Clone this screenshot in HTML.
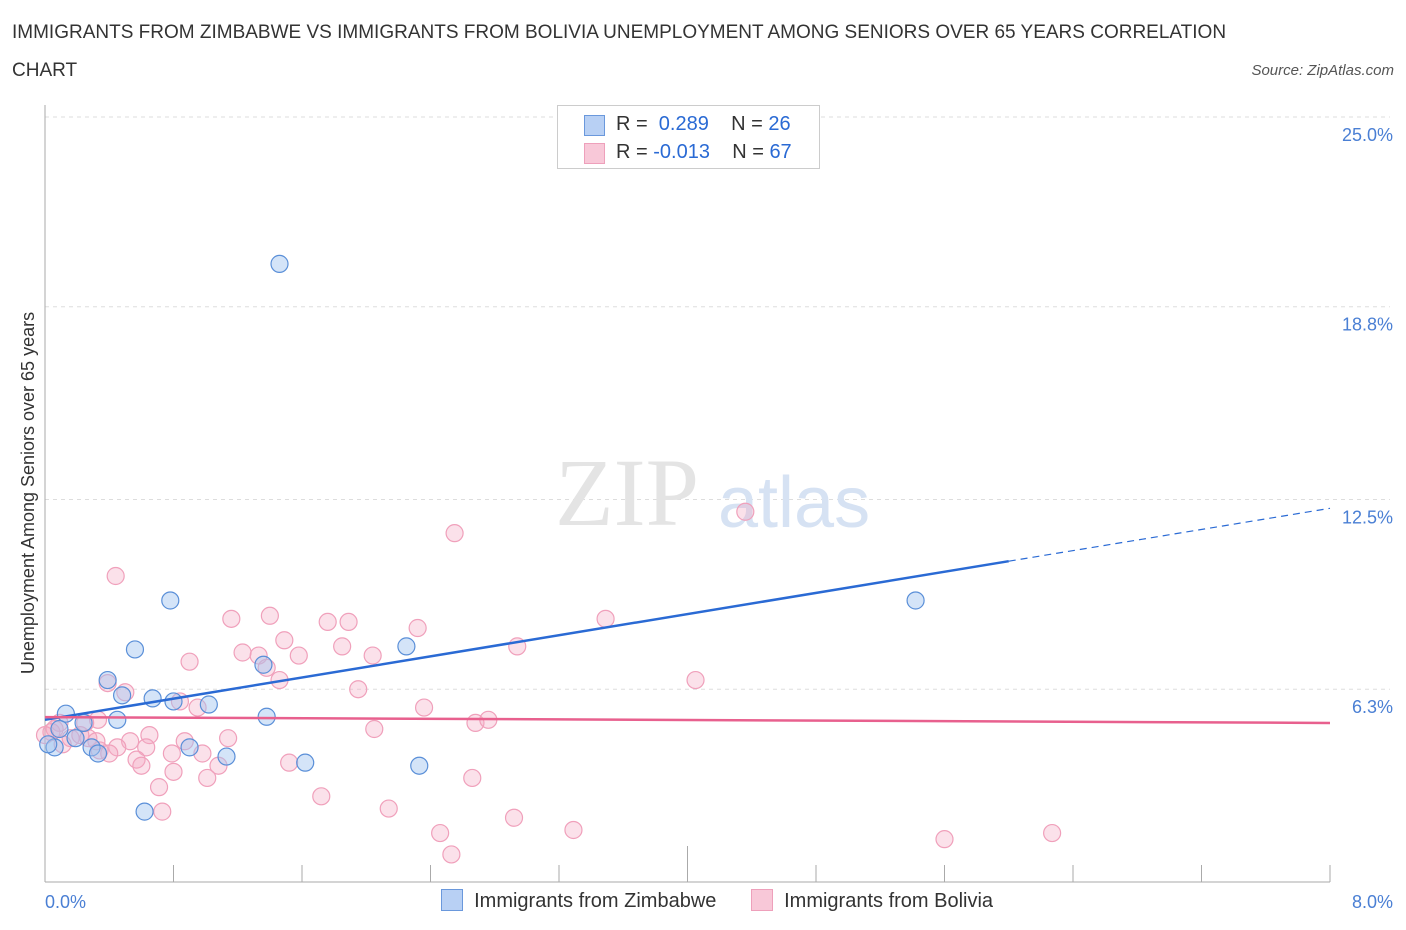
<!DOCTYPE html>
<html><head><meta charset="utf-8"><style>
body{margin:0;background:#fff;font-family:"Liberation Sans",sans-serif;}
#w{position:relative;width:1406px;height:930px;overflow:hidden;}
.t{position:absolute;white-space:nowrap;}
</style></head><body><div id="w">
<div class="t" style="left:12px;top:14px;font-size:19px;color:#333;line-height:38px;width:1215px;white-space:normal">IMMIGRANTS FROM ZIMBABWE VS IMMIGRANTS FROM BOLIVIA UNEMPLOYMENT AMONG SENIORS OVER 65 YEARS CORRELATION CHART</div>
<div class="t" style="right:12px;top:62px;font-size:15px;color:#555;font-style:italic">Source: ZipAtlas.com</div>
<svg id="s" width="1406" height="930" style="position:absolute;left:0;top:0"></svg>
</div>
<script>
const yTicks=[6.3,12.5,18.8,25.0];
const xTicks=["0.0%","8.0%"];
const zimX=[1.46,0.78,0.56,0.39,0.48,0.67,0.80,1.02,1.36,2.25,5.42,0.13,0.24,0.45,1.38,0.06,0.02,0.29,0.33,0.90,1.13,1.62,2.33,0.62,0.19,0.09];
const zimY=[20.2,9.2,7.6,6.6,6.1,6.0,5.9,5.8,7.1,7.7,9.2,5.5,5.2,5.3,5.4,4.4,4.5,4.4,4.2,4.4,4.1,3.9,3.8,2.3,4.7,5.0];
const bolX=[0.44,2.55,4.36,1.16,1.40,1.76,1.89,2.32,3.49,1.49,1.23,1.33,1.58,1.85,2.04,2.94,0.90,1.38,1.46,0.39,0.50,0.84,0.95,1.95,4.05,2.36,2.68,2.76,2.05,0.33,0.25,0.09,0.04,0.16,0.27,0.53,0.65,0.45,0.63,0.87,1.14,0.98,1.08,0.79,0.57,0.60,0.80,1.01,1.52,2.66,0.71,0.73,1.72,2.14,2.92,3.29,2.46,2.53,5.60,6.27,0.06,0.22,0.34,0.0,0.11,0.32,0.40];
const bolY=[10.0,11.4,12.1,8.6,8.7,8.5,8.5,8.3,8.6,7.9,7.5,7.4,7.4,7.7,7.4,7.7,7.2,7.0,6.6,6.5,6.2,5.9,5.7,6.3,6.6,5.7,5.2,5.3,5.0,5.3,5.2,5.2,4.9,4.7,4.7,4.6,4.8,4.4,4.4,4.6,4.7,4.2,3.8,4.2,4.0,3.8,3.6,3.4,3.9,3.4,3.1,2.3,2.8,2.4,2.1,1.7,1.6,0.9,1.4,1.6,5.0,4.8,4.3,4.8,4.5,4.6,4.2];
const zimTrend=[5.3,0.864];
const bolTrend=[5.39,-0.024];
const X0=45,X1=1330,YB=882;
const sx=v=>X0+(v/8)*(X1-X0);
const sy=v=>YB-v*30.6;
const s=document.getElementById('s');const NS='http://www.w3.org/2000/svg';
function mk(tag,a){const e=document.createElementNS(NS,tag);for(const k in a)e.setAttribute(k,a[k]);s.appendChild(e);return e;}
let e;
for(const v of yTicks){e=mk('line',{x1:X0,x2:X1+60,y1:sy(v),y2:sy(v),stroke:'#ddd','stroke-dasharray':'4,4'});


e=mk('text',{x:1393,y:sy(v)+24,'text-anchor':'end','font-size':18,fill:'#4a7fd4','font-family':'Liberation Sans'});e.textContent=v.toFixed(1)+'%';

}
e=mk('line',{x1:X0,x2:X0,y1:105,y2:YB,stroke:'#aaa'});


e=mk('line',{x1:X0,x2:X1,y1:YB,y2:YB,stroke:'#aaa'});


for(let i=0;i<=10;i++){const x=X0+i*(X1-X0)/10;e=mk('line',{x1:x,x2:x,y1:i==5?846:865,y2:YB,stroke:'#aaa'});

}
e=mk('text',{x:45,y:908,'font-size':18,fill:'#4a7fd4','font-family':'Liberation Sans'});e.textContent=xTicks[0];


e=mk('text',{x:1393,y:908,'text-anchor':'end','font-size':18,fill:'#4a7fd4','font-family':'Liberation Sans'});e.textContent=xTicks[1];


e=mk('text',{x:34,y:493,transform:'rotate(-90 34 493)','text-anchor':'middle','font-size':18,fill:'#333','font-family':'Liberation Sans'});e.textContent='Unemployment Among Seniors over 65 years';


e=mk('text',{x:555,y:525,'font-size':96,fill:'#e4e4e4','font-family':'Liberation Serif'});e.textContent='ZIP';


e=mk('text',{x:718,y:527,'font-size':72,fill:'#d6e2f3','font-family':'Liberation Sans'});e.textContent='atlas';


for(let i=0;i<bolX.length;i++){e=mk('circle',{cx:sx(bolX[i]),cy:sy(bolY[i]),r:8.5,fill:'rgba(244,170,195,0.35)',stroke:'#f0a0bb','stroke-width':1.2});

}
for(let i=0;i<zimX.length;i++){e=mk('circle',{cx:sx(zimX[i]),cy:sy(zimY[i]),r:8.5,fill:'rgba(160,195,240,0.45)',stroke:'#5a8fd8','stroke-width':1.2});

}
const tz=x=>zimTrend[0]+zimTrend[1]*x, tb=x=>bolTrend[0]+bolTrend[1]*x;
e=mk('line',{x1:sx(0),y1:sy(tz(0)),x2:sx(6),y2:sy(tz(6)),stroke:'#2a6ad4','stroke-width':2.5});


e=mk('line',{x1:sx(6),y1:sy(tz(6)),x2:sx(8),y2:sy(tz(8)),stroke:'#2a6ad4','stroke-width':1.2,'stroke-dasharray':'7,5'});


e=mk('line',{x1:sx(0),y1:sy(tb(0)),x2:sx(8),y2:sy(tb(8)),stroke:'#e8608e','stroke-width':2.5});


</script>
<div style="position:absolute;left:557px;top:105px;width:261px;height:62px;border:1px solid #ccc;background:#fff;font-size:20px;color:#333">
<div style="position:absolute;left:26px;top:9px;width:19px;height:19px;background:#b8d0f4;border:1px solid #6a98dc"></div>
<div class="t" style="left:58px;top:7px">R = <span style="color:#2a6ad4">&nbsp;0.289</span>&nbsp;&nbsp;&nbsp;&nbsp;N = <span style="color:#2a6ad4">26</span></div>
<div style="position:absolute;left:26px;top:37px;width:19px;height:19px;background:#f8c8d8;border:1px solid #eea0bb"></div>
<div class="t" style="left:58px;top:35px">R = <span style="color:#2a6ad4">-0.013</span>&nbsp;&nbsp;&nbsp;&nbsp;N = <span style="color:#2a6ad4">67</span></div>
</div>
<div style="position:absolute;left:441px;top:889px;font-size:20px;color:#333">
<div style="position:absolute;left:0;top:0;white-space:nowrap"><span style="display:inline-block;width:20px;height:20px;background:#b8d0f4;border:1px solid #6a98dc;vertical-align:-4px"></span>&nbsp;&nbsp;Immigrants from Zimbabwe</div>
<div style="position:absolute;left:310px;top:0;white-space:nowrap"><span style="display:inline-block;width:20px;height:20px;background:#f8c8d8;border:1px solid #eea0bb;vertical-align:-4px"></span>&nbsp;&nbsp;Immigrants from Bolivia</div>
</div>
</body></html>
